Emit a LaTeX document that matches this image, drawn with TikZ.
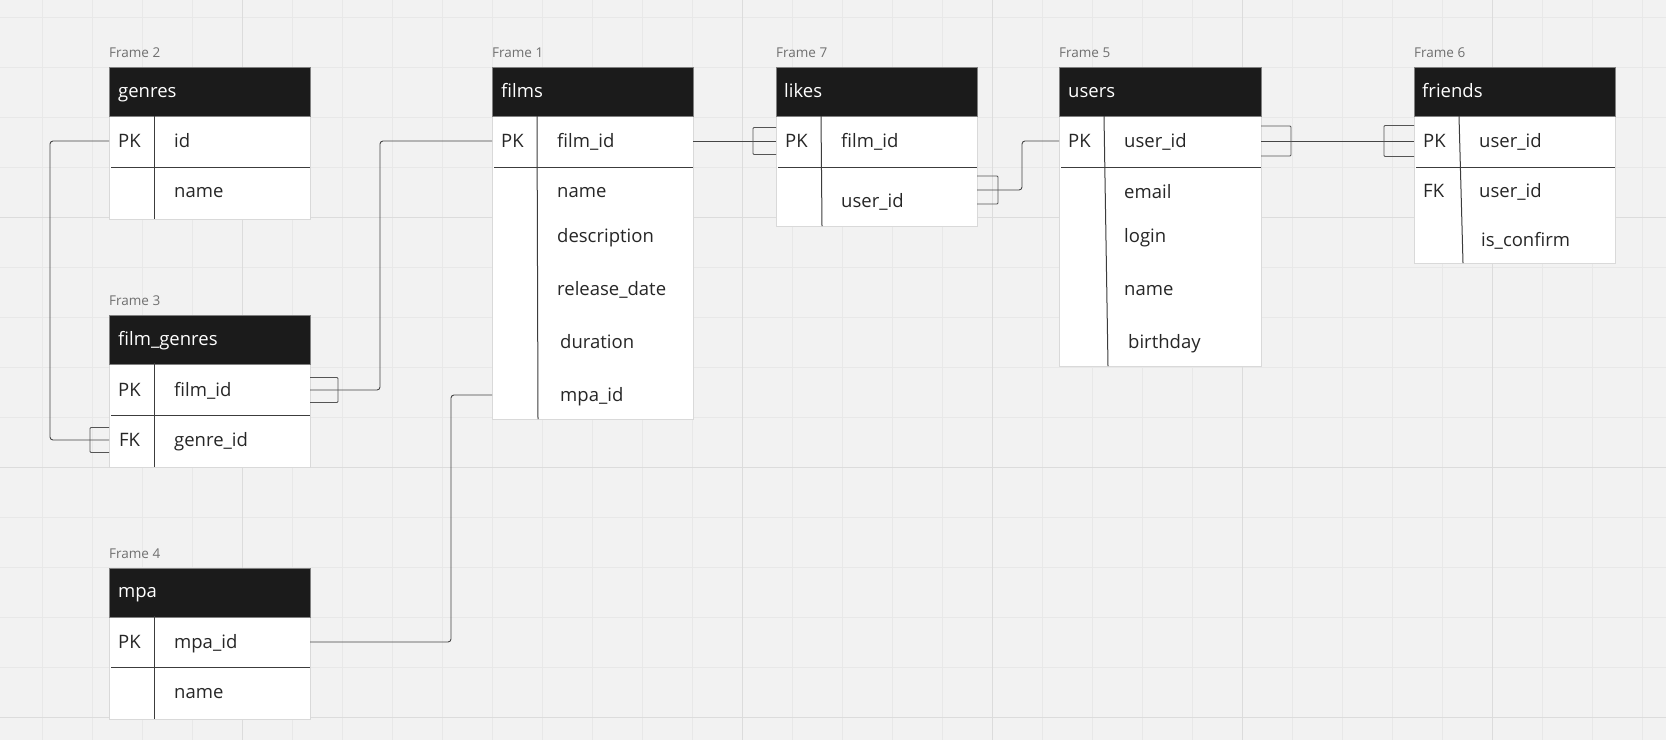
\documentclass[tikz,border=0pt]{standalone}
\usepackage{fontspec}
\setmainfont{Open Sans}
\usetikzlibrary{calc}

\definecolor{bggray}{HTML}{F2F2F2}
\definecolor{minorgrid}{HTML}{E8E8E8}
\definecolor{majorgrid}{HTML}{DCDCDC}
\definecolor{headblack}{HTML}{1B1B1B}
\definecolor{edgegray}{HTML}{D9D9D9}
\definecolor{linegray}{HTML}{3C3C3C}
\definecolor{conngray}{HTML}{454545}
\definecolor{crowgray}{HTML}{555555}
\definecolor{labelgray}{HTML}{707070}

% "many" end of a relation: bracket of length #2, half height #3
\newcommand{\crowfoot}[3]{%
  \draw[crow] ($(#1)+(0,-#3)$) -| ($(#1)+(#2,#3)$) -- ($(#1)+(0,#3)$);}

\begin{document}
\begin{tikzpicture}[x=1pt,y=-1pt,
  tabframe/.style={draw=edgegray,fill=white,line width=1pt,anchor=north west,minimum width=201pt,inner sep=0pt,outer sep=0pt},
  tabhead/.style={draw=gray,fill=headblack,line width=1pt,anchor=north west,minimum width=201pt,minimum height=49pt,inner sep=0pt,outer sep=0pt},
  tabtitle/.style={text=white,anchor=base west,inner sep=0pt,font=\fontsize{18.5}{22}\selectfont},
  field/.style={anchor=base west,inner sep=0pt,text height=15pt,text depth=3pt,text=black!85,font=\fontsize{18.5}{22}\selectfont},
  framelabel/.style={anchor=base west,inner sep=0pt,text=labelgray,font=\fontsize{13.5}{16}\selectfont},
  rowline/.style={draw=linegray,line width=1pt},
  conn/.style={draw=conngray,line width=0.9pt,rounded corners=3pt},
  crow/.style={draw=crowgray,line width=0.9pt,rounded corners=1pt}]

\useasboundingbox (0,0) rectangle (1666,740);
\fill[bggray] (0,0) rectangle (1666,740);
\foreach \gx in {42,92,...,1642} \draw[minorgrid,line width=1pt] (\gx,0) -- (\gx,740);
\foreach \gy in {17,67,...,717} \draw[minorgrid,line width=1pt] (0,\gy) -- (1666,\gy);
\foreach \gx in {242,742,992,1242,1492} \draw[majorgrid,line width=1pt] (\gx,0) -- (\gx,740);
\foreach \gy in {217,467,717} \draw[majorgrid,line width=1pt] (0,\gy) -- (1666,\gy);

% genres
\node[framelabel] (genres-lbl) at (109,57) {Frame 2};
\node[tabframe,minimum height=152pt] (genres) at (109,67) {};
\node[tabhead] (genres-head) at (109,67) {};
\node[tabtitle] (genres-title) at (118,97) {genres};
\draw[rowline] (111,167) -- (310,167);
\draw[rowline] (154,116) -- (154,219);
\node[field] (genres-pk) at (118,147) {PK};
\node[field] (genres-id) at (174,147) {id};
\node[field] (genres-name) at (174,197) {name};

% film_genres
\node[framelabel] (fg-lbl) at (109,305) {Frame 3};
\node[tabframe,minimum height=152pt] (fg) at (109,315) {};
\node[tabhead] (fg-head) at (109,315) {};
\node[tabtitle] (fg-title) at (118,345) {film\_genres};
\draw[rowline] (111,415) -- (310,415);
\draw[rowline] (154,363) -- (154,467);
\node[field] (fg-pk) at (118,396) {PK};
\node[field] (fg-fid) at (174,396) {film\_id};
\node[field] (fg-fk) at (119,446) {FK};
\node[field] (fg-gid) at (174,446) {genre\_id};

% mpa
\node[framelabel] (mpa-lbl) at (109,558) {Frame 4};
\node[tabframe,minimum height=151pt] (mpa) at (109,568) {};
\node[tabhead] (mpa-head) at (109,568) {};
\node[tabtitle] (mpa-title) at (118,597) {mpa};
\draw[rowline] (111,667) -- (310,667);
\draw[rowline] (154,616) -- (154,719);
\node[field] (mpa-pk) at (118,648) {PK};
\node[field] (mpa-mid) at (174,648) {mpa\_id};
\node[field] (mpa-name) at (174,698) {name};

% films
\node[framelabel] (films-lbl) at (492,57) {Frame 1};
\node[tabframe,minimum height=352pt] (films) at (492,67) {};
\node[tabhead] (films-head) at (492,67) {};
\node[tabtitle] (films-title) at (501,97) {films};
\draw[rowline] (494,167) -- (693,167);
\draw[rowline] (537,116) -- (538,419);
\node[field] (films-pk) at (501,147) {PK};
\node[field] (films-fid) at (557,147) {film\_id};
\node[field] (films-name) at (557,197) {name};
\node[field] (films-desc) at (557,242) {description};
\node[field] (films-rel) at (557,295) {release\_date};
\node[field] (films-dur) at (560,348) {duration};
\node[field] (films-mid) at (560,401) {mpa\_id};

% likes
\node[framelabel] (likes-lbl) at (776,57) {Frame 7};
\node[tabframe,minimum height=159pt] (likes) at (776,67) {};
\node[tabhead] (likes-head) at (776,67) {};
\node[tabtitle] (likes-title) at (784,97) {likes};
\draw[rowline] (778,167) -- (977,167);
\draw[rowline] (821,116) -- (822,226);
\node[field] (likes-pk) at (785,147) {PK};
\node[field] (likes-fid) at (841,147) {film\_id};
\node[field] (likes-uid) at (841,207) {user\_id};

% users
\node[framelabel] (users-lbl) at (1059,57) {Frame 5};
\node[tabframe,minimum width=202pt,minimum height=299pt] (users) at (1059,67) {};
\node[tabhead,minimum width=202pt] (users-head) at (1059,67) {};
\node[tabtitle] (users-title) at (1068,97) {users};
\draw[rowline] (1061,167) -- (1261,167);
\draw[rowline] (1104,116) -- (1108,366);
\node[field] (users-pk) at (1068,147) {PK};
\node[field] (users-uid) at (1124,147) {user\_id};
\node[field] (users-email) at (1124,198) {email};
\node[field] (users-login) at (1124,242) {login};
\node[field] (users-name) at (1124,295) {name};
\node[field] (users-bday) at (1128,348) {birthday};

% friends
\node[framelabel] (friends-lbl) at (1414,57) {Frame 6};
\node[tabframe,minimum height=196pt] (friends) at (1414,67) {};
\node[tabhead] (friends-head) at (1414,67) {};
\node[tabtitle] (friends-title) at (1422,97) {friends};
\draw[rowline] (1416,167) -- (1615,167);
\draw[rowline] (1459,116) -- (1463,263);
\node[field] (friends-pk) at (1423,147) {PK};
\node[field] (friends-uid) at (1479,147) {user\_id};
\node[field] (friends-fk) at (1423,197) {FK};
\node[field] (friends-fuid) at (1479,197) {user\_id};
\node[field] (friends-conf) at (1481,246) {is\_confirm};

% relations
\draw[conn] (genres.west |- genres-id) -- ++(-59,0) |- (fg.west |- fg-gid);
\crowfoot{fg.west |- fg-gid}{-19}{12.5}

\draw[conn] (fg.east |- fg-fid) -- ++(70,0) |- (films.west |- films-fid);
\crowfoot{fg.east |- fg-fid}{28}{12.5}

\draw[conn] (mpa.east |- mpa-mid) -- ++(141,0) |- (films.west |- films-mid);

\draw[conn] (films.east |- films-fid) -- (likes.west |- likes-fid);
\crowfoot{likes.west |- likes-fid}{-23}{13.5}

\coordinate (likes-out) at ($(likes.east |- likes-uid)+(0,-11)$);
\draw[conn] (likes-out) -- ++(45,0) |- (users.west |- users-uid);
\crowfoot{likes-out}{21}{14}

\draw[conn] (users.east |- users-uid) -- (friends.west |- friends-uid);
\crowfoot{users.east |- users-uid}{30}{15}
\crowfoot{friends.west |- friends-uid}{-30}{15.5}

\end{tikzpicture}
\end{document}
